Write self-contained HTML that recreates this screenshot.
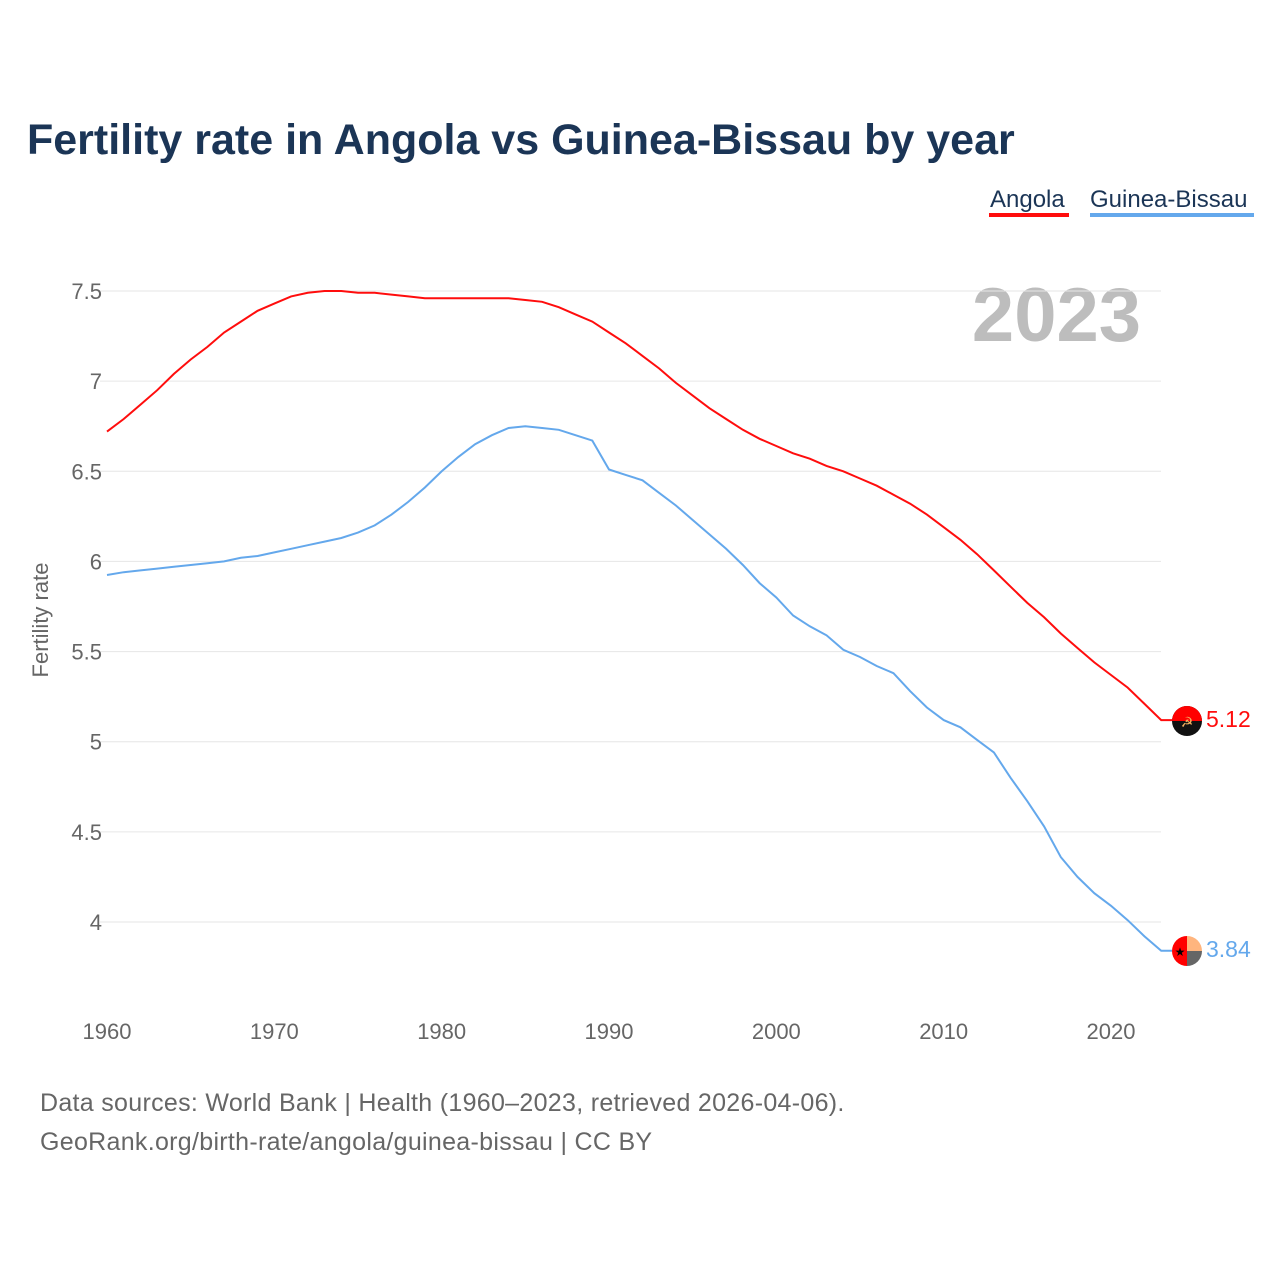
<!DOCTYPE html>
<html><head><meta charset="utf-8"><style>
body{margin:0;background:#fff;}
svg{display:block;font-family:"Liberation Sans",sans-serif;}
</style></head><body>
<svg id="chart" width="1280" height="1280">
<text x="27" y="154" font-size="43" font-weight="bold" fill="#1b3556">Fertility rate in Angola vs Guinea-Bissau by year</text>
<g><text x="990" y="207" font-size="24" fill="#1b3556">Angola</text><rect x="989" y="213" width="80" height="4" fill="#ff0d0d"/></g>
<g><text x="1090" y="207" font-size="24" fill="#1b3556">Guinea-Bissau</text><rect x="1090" y="213" width="164" height="4" fill="#64a8ec"/></g>
<text x="1141" y="341" text-anchor="end" font-size="76" font-weight="bold" fill="#bdbdbd">2023</text>
<text transform="translate(48,620) rotate(-90)" text-anchor="middle" font-size="22" fill="#666">Fertility rate</text>
<g id="grid"></g><g id="yt"></g><g id="xt"></g><g id="lines"></g>
<g>
<circle cx="1187" cy="721" r="15" fill="#111"/><path d="M1172,721 A15,15 0 0 1 1202,721 Z" fill="#f00"/><text x="1187" y="727" font-size="14" text-anchor="middle" fill="#f4b060">☭</text></g>
<g>
<path d="M1187,936 A15,15 0 0 0 1187,966 Z" fill="#f00"/><path d="M1187,936 A15,15 0 0 1 1202,951 L1187,951 Z" fill="#ffb57e"/><path d="M1202,951 A15,15 0 0 1 1187,966 L1187,951 Z" fill="#666"/><text x="1180" y="956" font-size="12" text-anchor="middle" fill="#000">★</text></g>
<text x="1206" y="727" font-size="23" fill="#ff0d0d">5.12</text>
<text x="1206" y="957" font-size="23" fill="#64a8ec">3.84</text>
<text x="40" y="1111" font-size="25" letter-spacing="0.3" fill="#666">Data sources: World Bank | Health (1960–2023, retrieved 2026-04-06).</text>
<text x="40" y="1150" font-size="25" letter-spacing="0.3" fill="#666">GeoRank.org/birth-rate/angola/guinea-bissau | CC BY</text>
</svg>
<script>
const years=[];for(let y=1960;y<=2023;y++)years.push(y);
const angola=[6.72,6.79,6.87,6.95,7.04,7.12,7.19,7.27,7.33,7.39,7.43,7.47,7.49,7.50,7.50,7.49,7.49,7.48,7.47,7.46,7.46,7.46,7.46,7.46,7.46,7.45,7.44,7.41,7.37,7.33,7.27,7.21,7.14,7.07,6.99,6.92,6.85,6.79,6.73,6.68,6.64,6.60,6.57,6.53,6.50,6.46,6.42,6.37,6.32,6.26,6.19,6.12,6.04,5.95,5.86,5.77,5.69,5.60,5.52,5.44,5.37,5.30,5.21,5.12];
const guinea=[5.925,5.94,5.95,5.96,5.97,5.98,5.99,6.00,6.02,6.03,6.05,6.07,6.09,6.11,6.13,6.16,6.20,6.26,6.33,6.41,6.50,6.58,6.65,6.70,6.74,6.75,6.74,6.73,6.70,6.67,6.51,6.48,6.45,6.38,6.31,6.23,6.15,6.07,5.98,5.88,5.80,5.70,5.64,5.59,5.51,5.47,5.42,5.38,5.28,5.19,5.12,5.08,5.01,4.94,4.80,4.67,4.53,4.36,4.25,4.16,4.09,4.01,3.92,3.84];
const yTicks=[4,4.5,5,5.5,6,6.5,7,7.5];
const yTickLabels=["4","4.5","5","5.5","6","6.5","7","7.5"];
const xTicks=[1960,1970,1980,1990,2000,2010,2020];
const NS="http://www.w3.org/2000/svg";
const xs=y=>107+(y-1960)*(1111-107)/60;
const ys=v=>922-(v-4)*(922-291)/3.5;
function mk(tag,parent,attrs){const e=document.createElementNS(NS,tag);for(const k in attrs)e.setAttribute(k,attrs[k]);document.getElementById(parent).appendChild(e);return e;}
yTicks.forEach((t,i)=>{
 const g=mk('line','grid',{x1:100,x2:1161,y1:ys(t),y2:ys(t),stroke:'#e6e6e6','stroke-width':1});
 
 
 const l=mk('text','yt',{x:102,y:ys(t)+8,'text-anchor':'end','font-size':22,fill:'#666'});
 l.textContent=yTickLabels[i];
 
 
});
xTicks.forEach(t=>{
 const l=mk('text','xt',{x:xs(t),y:1039,'text-anchor':'middle','font-size':22,fill:'#666'});
 l.textContent=t;
 
 
});
function line(data,color,name){
 let d=data.map((v,i)=>(i?'L':'M')+xs(years[i]).toFixed(1)+','+ys(v).toFixed(1)).join(' ');
 d+=' L1172,'+ys(data[data.length-1]).toFixed(1);
 const p=mk('path','lines',{d:d,fill:'none',stroke:color,'stroke-width':2});
 
 
}
line(angola,'#ff0d0d','line-angola');
line(guinea,'#64a8ec','line-guinea-bissau');
</script>
</body></html>
